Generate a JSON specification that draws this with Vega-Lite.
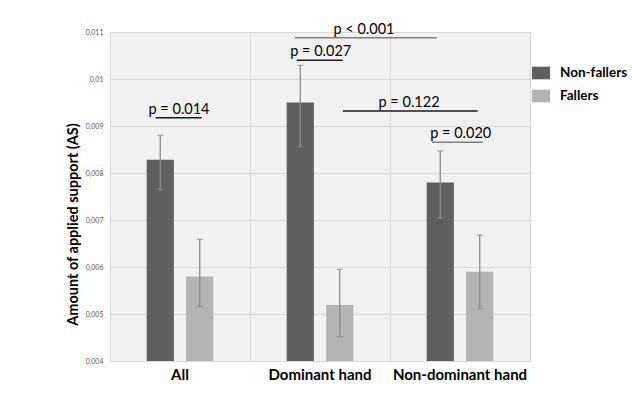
{
  "$schema": "https://vega.github.io/schema/vega-lite/v6.json",
  "width": 420,
  "height": 329,
  "autosize": {"type": "none"},
  "padding": {"left": 110, "top": 32, "right": 102, "bottom": 48},
  "background": "white",
  "config": {
    "font": "Lato",
    "view": {"stroke": "#d9d9d9", "fill": "#f1f1f1"}
  },
  "datasets": {
    "bars": [
      {"group": "All", "status": "Non-fallers", "mean": 0.00828, "lo": 0.00765, "hi": 0.00880},
      {"group": "All", "status": "Fallers", "mean": 0.0058, "lo": 0.00516, "hi": 0.00659},
      {"group": "Dominant hand", "status": "Non-fallers", "mean": 0.0095, "lo": 0.00856, "hi": 0.01029},
      {"group": "Dominant hand", "status": "Fallers", "mean": 0.00519, "lo": 0.00452, "hi": 0.00595},
      {"group": "Non-dominant hand", "status": "Non-fallers", "mean": 0.0078, "lo": 0.00704, "hi": 0.00847},
      {"group": "Non-dominant hand", "status": "Fallers", "mean": 0.0059, "lo": 0.00511, "hi": 0.00668}
    ],
    "ann": [
      {"label": "p = 0.014", "x1": 0.326, "x2": 0.655, "y": 0.009177, "xm": 0.493},
      {"label": "p = 0.027", "x1": 1.334, "x2": 1.662, "y": 0.010398, "xm": 1.505},
      {"label": "p < 0.001", "x1": 1.321, "x2": 2.334, "y": 0.010879, "xm": 1.814},
      {"label": "p = 0.122", "x1": 1.664, "x2": 2.626, "y": 0.009319, "xm": 2.136},
      {"label": "p = 0.020", "x1": 2.3, "x2": 2.662, "y": 0.008653, "xm": 2.505}
    ]
  },
  "layer": [
    {
      "data": {"name": "bars"},
      "encoding": {
        "x": {
          "field": "group", "type": "nominal",
          "sort": ["All", "Dominant hand", "Non-dominant hand"],
          "scale": {"paddingInner": 0, "paddingOuter": 0},
          "axis": {
            "title": null, "labelAngle": 0, "labelFontSize": 15, "labelFontWeight": "bold",
            "labelColor": "#000000", "labelPadding": 6, "ticks": false, "domain": false, "grid": false
          }
        },
        "xOffset": {
          "field": "status", "type": "nominal",
          "sort": ["Non-fallers", "Fallers"],
          "scale": {"paddingInner": 0.31, "paddingOuter": 0.93}
        }
      },
      "layer": [
        {
          "mark": {"type": "bar"},
          "encoding": {
            "y": {
              "field": "mean", "type": "quantitative",
              "scale": {"domain": [0.004, 0.011], "nice": false, "zero": false},
              "axis": {
                "title": "Amount of applied support (AS)",
                "titleFontSize": 14.5, "titleFontWeight": "bold", "titleColor": "#000000",
                "titleX": -30, "titleY": 192,
                "values": [0.004, 0.005, 0.006, 0.007, 0.008, 0.009, 0.01, 0.011],
                "labelExpr": "replace(format(datum.value, '.3~f'), '.', ',')",
                "labelFontSize": 7, "labelColor": "#595959", "labelPadding": 7,
                "ticks": false, "domain": false, "grid": true, "gridColor": "#d9d9d9"
              }
            },
            "y2": {"datum": 0.004},
            "color": {
              "field": "status", "type": "nominal",
              "sort": ["Non-fallers", "Fallers"],
              "scale": {"domain": ["Non-fallers", "Fallers"], "range": ["#5f5f5f", "#b4b4b4"]},
              "legend": {
                "title": null, "orient": "none", "legendX": 422, "legendY": 32,
                "padding": 0,
                "symbolType": "M-1,-0.7L1,-0.7L1,0.7L-1,0.7Z", "symbolSize": 324,
                "symbolStrokeWidth": 0,
                "labelFontSize": 13.5, "labelFontWeight": "bold", "labelColor": "#000000",
                "labelOffset": 10, "rowPadding": 7, "labelLimit": 200,
                "encode": {
                  "symbols": {"update": {"fill": {"signal": "datum.value === 'Fallers' ? '#d9d9d9' : '#595959'"}, "stroke": {"value": "transparent"}}}
                }
              }
            }
          }
        },
        {
          "mark": {"type": "rule", "color": "#8c8c8c", "strokeWidth": 1.3},
          "encoding": {
            "y": {"field": "lo", "type": "quantitative"},
            "y2": {"field": "hi"}
          }
        },
        {
          "mark": {"type": "tick", "color": "#8c8c8c", "size": 6, "thickness": 1.3},
          "encoding": {"y": {"field": "hi", "type": "quantitative"}}
        },
        {
          "mark": {"type": "tick", "color": "#8c8c8c", "size": 6, "thickness": 1.3},
          "encoding": {"y": {"field": "lo", "type": "quantitative"}}
        }
      ]
    },
    {
      "data": {"name": "ann"},
      "encoding": {
        "x": {
          "field": "x1", "type": "quantitative",
          "scale": {"domain": [0, 3], "nice": false, "zero": false},
          "axis": {"values": [1, 2], "grid": true, "gridColor": "#d9d9d9", "labels": false, "ticks": false, "domain": false, "title": null}
        }
      },
      "layer": [
        {
          "mark": {"type": "rule", "strokeWidth": 1.5},
          "encoding": {
            "x2": {"field": "x2"},
            "y": {"field": "y", "type": "quantitative"},
            "color": {
              "condition": {"test": "datum.label === 'p < 0.001' || datum.label === 'p = 0.020'", "value": "#7f7f7f"},
              "value": "#1a1a1a"
            }
          }
        },
        {
          "mark": {"type": "text", "fontSize": 14.5, "baseline": "alphabetic", "dy": -4, "color": "#000000"},
          "encoding": {
            "x": {"field": "xm", "type": "quantitative"},
            "y": {"field": "y", "type": "quantitative"},
            "text": {"field": "label"}
          }
        }
      ]
    }
  ],
  "resolve": {"scale": {"x": "independent"}}
}
